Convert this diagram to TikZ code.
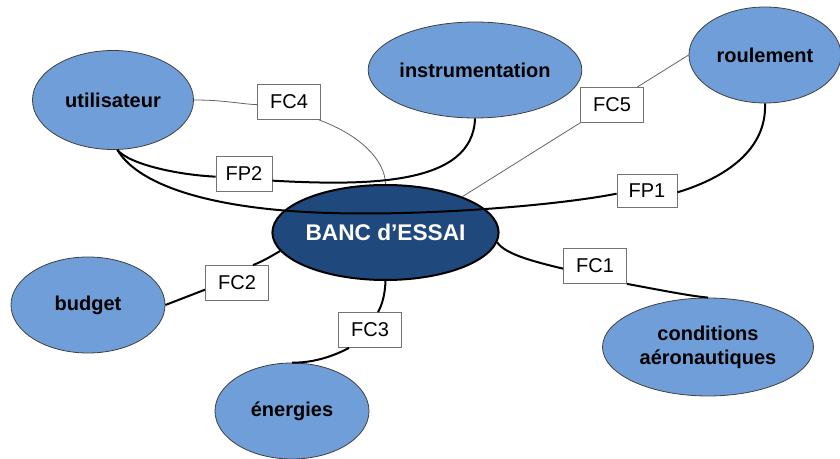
\documentclass[tikz,border=0pt]{standalone}
\usepackage{fontspec}
\setmainfont{Liberation Sans}
\usetikzlibrary{shapes.geometric}
\definecolor{lightblue}{RGB}{112,158,216}
\definecolor{darkblue}{RGB}{31,73,125}
\definecolor{thingray}{RGB}{100,100,100}
\tikzset{
  bubble/.style={ellipse, draw=black!75, line width=0.6pt, fill=lightblue, inner sep=0pt, align=center,
    font=\fontsize{15}{18}\selectfont\bfseries},
  mainbubble/.style={ellipse, draw=black, line width=1.5pt, fill=darkblue, inner sep=0pt,
    text=white, font=\fontsize{17}{20}\selectfont\bfseries},
  fbox/.style={rectangle, draw=black!55, line width=0.6pt, fill=white, inner sep=0pt,
    minimum width=47.25pt, minimum height=26.25pt, font=\fontsize{15}{18}\selectfont},
  thickline/.style={line width=1.5pt, black},
  thinline/.style={line width=0.6pt, thingray},
}
\begin{document}
\begin{tikzpicture}[x=0.75pt, y=-0.75pt]
\useasboundingbox (0,0) rectangle (840,459);

\node[mainbubble, minimum width=158.25pt, minimum height=71.25pt] (banc) at (385.5,232.5) {BANC d’ESSAI};
\node[bubble, minimum width=120.75pt, minimum height=74.25pt] (util) at (113,100) {utilisateur};
\node[bubble, minimum width=157.5pt, minimum height=72pt] (instr) at (475,70) {instrumentation};
\node[bubble, minimum width=114pt, minimum height=72pt] (roul) at (765,55) {roulement};
\node[bubble, minimum width=115.5pt, minimum height=72pt] (budget) at (88,305) {budget};
\node[bubble, minimum width=115.5pt, minimum height=72pt] (ener) at (292,411) {énergies};
\node[bubble, minimum width=158.25pt, minimum height=73.5pt] (cond) at (708,347) {conditions\\aéronautiques};

\node[fbox] (fc4) at (289,102) {FC4};
\node[fbox, minimum width=42pt] (fp2) at (244,174) {FP2};
\node[fbox] (fc5) at (612,105) {FC5};
\node[fbox, minimum width=45pt, minimum height=24.75pt] (fp1) at (647,191) {FP1};
\node[fbox] (fc2) at (237,283) {FC2};
\node[fbox] (fc3) at (370,330) {FC3};
\node[fbox] (fc1) at (595,266) {FC1};

% FC4
\draw[thinline] (util.east) .. controls (225,100) and (240,104) .. ([yshift=-2pt]fc4.west);
\draw[thinline] ([xshift=-1.5pt]fc4.south east) .. controls (360,135) and (385,160) .. (banc.north);
% FP2
\draw[thickline] (util.-85) .. controls (130,165) and (180,175) .. ([yshift=-2pt]fp2.west);
\draw[thickline] ([yshift=-5pt]fp2.east) .. controls (370,186) and (473,185) .. (instr.south);
% FP1
\draw[thickline] (util.-85) .. controls (140,188) and (220,210) .. (330,213)
   .. controls (430,216) and (560,205) .. ([yshift=-2pt]fp1.west);
\draw[thickline] ([yshift=-1pt]fp1.east) .. controls (725,178) and (767,150) .. (roul.south);
% FC5
\draw[thinline] (banc.25) -- (fc5.south west);
\draw[thinline] ([xshift=-5pt]fc5.north east) -- (roul.west);
% FC1
\draw[thickline] (banc.-5) .. controls (505,255) and (540,263) .. ([yshift=-2pt]fc1.west);
\draw[thickline] (fc1.south east) .. controls (660,290) and (690,296) .. (cond.north);
% FC2
\draw[thickline] (banc.190) .. controls (278,252) and (266,260) .. ([xshift=12pt]fc2.north);
\draw[thickline] ([yshift=-5pt]fc2.west) -- (budget.east);
% FC3
\draw[thickline] (banc.south) .. controls (385,295) and (382,305) .. ([xshift=6pt]fc3.north);
\draw[thickline] ([xshift=-15.75pt]fc3.south) .. controls (330,358) and (310,363) .. (ener.north);
\end{tikzpicture}
\end{document}
